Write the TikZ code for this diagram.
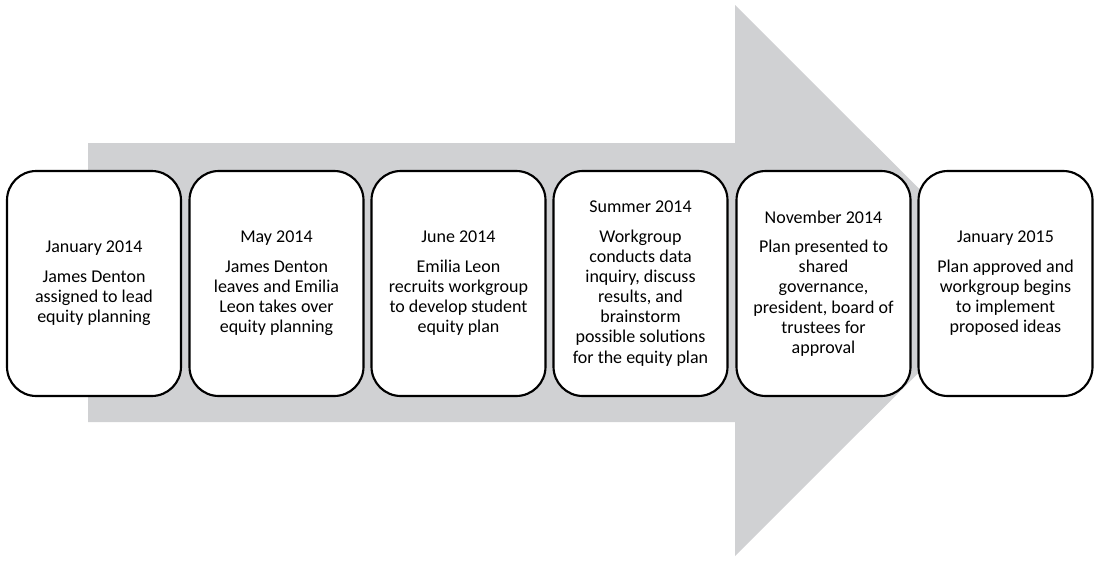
\documentclass[tikz,border=0pt]{standalone}
\usepackage{fontspec}
\setmainfont{Carlito}
\definecolor{arrowgray}{RGB}{208,209,211}
\begin{document}
\begin{tikzpicture}[x=0.75pt,y=-0.75pt,
  event/.style={draw=black, line width=1.6pt, fill=white, rounded corners=22pt,
    minimum width=130.5pt, minimum height=168.75pt, align=center, inner sep=2pt,
    font=\fontsize{13.5}{15.1}\selectfont},
]
\useasboundingbox (0,0) rectangle (1095,561);
% big background arrow
\fill[arrowgray] (88,143) -- (735,143) -- (735,5) -- (1011,280.5) -- (735,556)
  -- (735,422) -- (88,422) -- cycle;
% timeline events
\node[event] (b1) at (94,283.5) {January 2014\\[7pt]James Denton\\assigned to lead\\equity planning};
\node[event] (b2) at (276.5,283.5) {May 2014\\[7pt]James Denton\\leaves and Emilia\\Leon takes over\\equity planning};
\node[event] (b3) at (458.5,283.5) {June 2014\\[7pt]Emilia Leon\\recruits workgroup\\to develop student\\equity plan};
\node[event] (b4) at (640.5,283.5) {Summer 2014\\[7pt]Workgroup\\conducts data\\inquiry, discuss\\results, and\\brainstorm\\possible solutions\\for the equity plan};
\node[event] (b5) at (823.5,283.5) {November 2014\\[7pt]Plan presented to\\shared\\governance,\\president, board of\\trustees for\\approval};
\node[event] (b6) at (1005.5,283.5) {January 2015\\[7pt]Plan approved and\\workgroup begins\\to implement\\proposed ideas};
\end{tikzpicture}
\end{document}
